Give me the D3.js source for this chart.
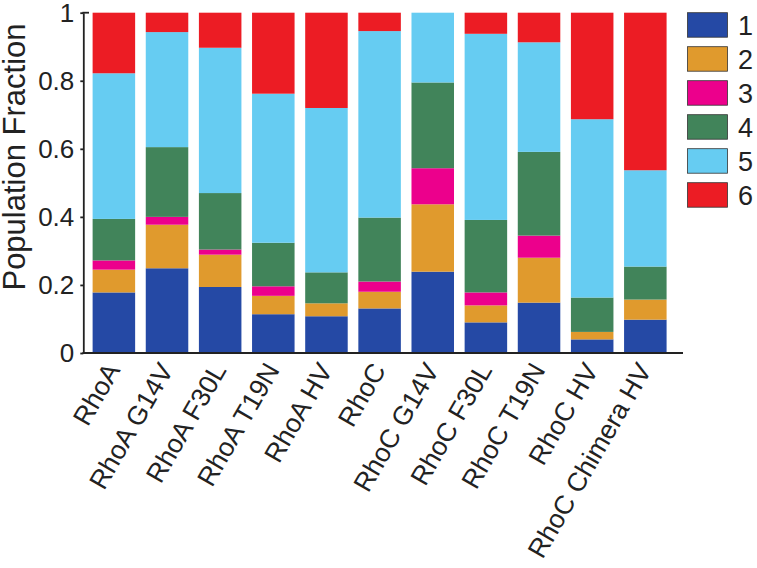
<!DOCTYPE html>
<html><head><meta charset="utf-8">
<script src="https://cdn.jsdelivr.net/npm/d3@7"></script>
<style>body{margin:0;background:#fff}svg{display:block}text{font-family:"Liberation Sans",Arial,sans-serif;fill:#222}</style>
</head><body>
<script>
const categories = ["RhoA","RhoA G14V","RhoA F30L","RhoA T19N","RhoA HV","RhoC","RhoC G14V","RhoC F30L","RhoC T19N","RhoC HV","RhoC Chimera HV"];
const seriesNames = ["1","2","3","4","5","6"];
const s1 = [0.178,0.249,0.194,0.114,0.108,0.131,0.239,0.090,0.148,0.040,0.098];
const s2 = [0.067,0.128,0.095,0.054,0.038,0.049,0.198,0.050,0.132,0.022,0.059];
const s3 = [0.027,0.023,0.015,0.028,0.000,0.030,0.106,0.038,0.065,0.000,0.000];
const s4 = [0.122,0.205,0.166,0.128,0.091,0.188,0.252,0.213,0.246,0.101,0.097];
const s5 = [0.428,0.338,0.427,0.438,0.483,0.548,0.205,0.547,0.322,0.524,0.283];
const s6 = [0.178,0.057,0.103,0.238,0.280,0.054,0.000,0.062,0.087,0.313,0.463];
const yTicks = [0,0.2,0.4,0.6,0.8,1];
const yTickLabels = ["0","0.2","0.4","0.6","0.8","1"];
const colors = ["#2549a5","#e09a2d","#ec008c","#41845a","#66ccf2","#ec1c24"];

const W = 757, H = 568;
const svg = d3.select("body").append("svg").attr("width", W).attr("height", H);

const seriesVals = [s1,s2,s3,s4,s5,s6];
const rows = categories.map((c,i)=>{const r={cat:c}; seriesNames.forEach((s,j)=>r[s]=seriesVals[j][i]); return r;});
const stack = d3.stack().keys(seriesNames)(rows);

const x = d3.scaleBand().domain(categories).range([87.3, 671.9]).paddingInner(0.2).paddingOuter(0.1);
const y = d3.scaleLinear().domain([0,1]).range([353, 12.7]);

svg.append("g").selectAll("g").data(stack).join("g")
  .attr("fill",(d,i)=>colors[i])
  .selectAll("rect").data(d=>d).join("rect")
  .attr("x",d=>x(d.data.cat)).attr("width",x.bandwidth())
  .attr("y",d=>y(d[1])).attr("height",d=>Math.max(0,y(d[0])-y(d[1])));

// y axis
const yAxis = d3.axisLeft(y).tickValues(yTicks).tickFormat((d,i)=>yTickLabels[i]).tickSizeInner(3).tickSizeOuter(0).tickPadding(6);
const gy = svg.append("g").attr("transform","translate(83.3,0)").call(yAxis);
gy.select(".domain").attr("stroke","#222").attr("stroke-width",1.8);
gy.selectAll(".tick line").attr("stroke","#222").attr("stroke-width",1.8);
gy.selectAll(".tick text").attr("font-size",26).attr("fill","#222").attr("font-family","Liberation Sans, Arial, sans-serif");
svg.append("line").attr("x1",82.4).attr("x2",89).attr("y1",y(1)).attr("y2",y(1)).attr("stroke","#222").attr("stroke-width",1.8);

// x axis
const xAxis = d3.axisBottom(x).tickSize(0).tickPadding(0);
const gx = svg.append("g").attr("transform","translate(0,353)").call(xAxis);
gx.select(".domain").remove();
svg.append("line").attr("x1",82.4).attr("x2",683).attr("y1",353).attr("y2",353).attr("stroke","#222").attr("stroke-width",1.8);
gx.selectAll(".tick text").attr("font-size",26.5).attr("fill","#222").attr("font-family","Liberation Sans, Arial, sans-serif")
  .attr("text-anchor","end").attr("x",0).attr("y",0).attr("dy",0)
  .attr("transform","translate(7,17) rotate(-60)");

// y label
svg.append("text").attr("transform","translate(25,157) rotate(-90)").attr("text-anchor","middle")
  .attr("font-size",31).text("Population Fraction");

// legend
const lg = svg.append("g");
seriesNames.forEach((s,i)=>{
  const yy = 12.7 + i*34;
  lg.append("rect").attr("x",687.5).attr("y",yy).attr("width",40).attr("height",24.5)
    .attr("fill",colors[i]).attr("stroke","#333").attr("stroke-width",0.8);
  lg.append("text").attr("x",738).attr("y",yy+12.5).attr("dy","0.36em").attr("font-size",27).text(s);
});
</script>
</body></html>
